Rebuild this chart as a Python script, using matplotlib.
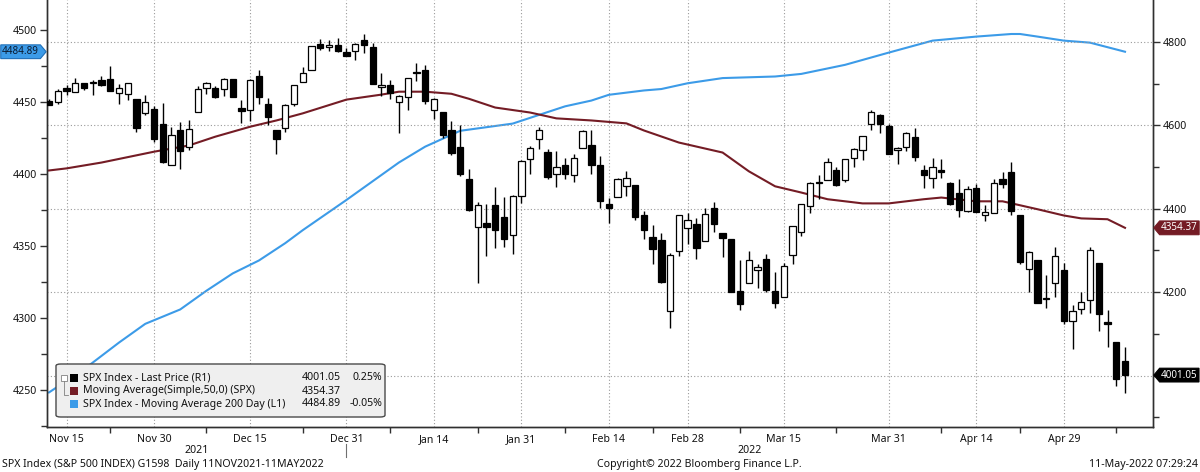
import matplotlib
matplotlib.use("Agg")
import matplotlib.pyplot as plt
import numpy as np
import pandas as pd
from matplotlib.path import Path
from matplotlib.patches import FancyBboxPatch, Rectangle
from matplotlib.lines import Line2D
from matplotlib.ticker import FuncFormatter

plt.rcParams['font.family'] = ['Noto Sans', 'DejaVu Sans']

# SPX daily candles, 11 Nov 2021 - 10 May 2022
DATES = [
    "2021-11-11", "2021-11-12", "2021-11-15", "2021-11-16", "2021-11-17", "2021-11-18", "2021-11-19",
    "2021-11-22", "2021-11-23", "2021-11-24", "2021-11-26", "2021-11-29", "2021-11-30",
    "2021-12-01", "2021-12-02", "2021-12-03", "2021-12-06", "2021-12-07", "2021-12-08", "2021-12-09",
    "2021-12-10", "2021-12-13", "2021-12-14", "2021-12-15", "2021-12-16", "2021-12-17", "2021-12-20",
    "2021-12-21", "2021-12-22", "2021-12-23", "2021-12-27", "2021-12-28", "2021-12-29", "2021-12-30",
    "2021-12-31", "2022-01-03", "2022-01-04", "2022-01-05", "2022-01-06", "2022-01-07", "2022-01-10",
    "2022-01-11", "2022-01-12", "2022-01-13", "2022-01-14", "2022-01-18", "2022-01-19", "2022-01-20",
    "2022-01-21", "2022-01-24", "2022-01-25", "2022-01-26", "2022-01-27", "2022-01-28", "2022-01-31",
    "2022-02-01", "2022-02-02", "2022-02-03", "2022-02-04", "2022-02-07", "2022-02-08", "2022-02-09",
    "2022-02-10", "2022-02-11", "2022-02-14", "2022-02-15", "2022-02-16", "2022-02-17", "2022-02-18",
    "2022-02-22", "2022-02-23", "2022-02-24", "2022-02-25", "2022-02-28", "2022-03-01", "2022-03-02",
    "2022-03-03", "2022-03-04", "2022-03-07", "2022-03-08", "2022-03-09", "2022-03-10", "2022-03-11",
    "2022-03-14", "2022-03-15", "2022-03-16", "2022-03-17", "2022-03-18", "2022-03-21", "2022-03-22",
    "2022-03-23", "2022-03-24", "2022-03-25", "2022-03-28", "2022-03-29", "2022-03-30", "2022-03-31",
    "2022-04-01", "2022-04-04", "2022-04-05", "2022-04-06", "2022-04-07", "2022-04-08", "2022-04-11",
    "2022-04-12", "2022-04-13", "2022-04-14", "2022-04-18", "2022-04-19", "2022-04-20", "2022-04-21",
    "2022-04-22", "2022-04-25", "2022-04-26", "2022-04-27", "2022-04-28", "2022-04-29", "2022-05-02",
    "2022-05-03", "2022-05-04", "2022-05-05", "2022-05-06", "2022-05-09", "2022-05-10",
]
OPEN = [
    4659.39, 4655.24, 4689.30, 4679.42, 4701.50, 4700.72, 4708.44, 4712.00, 4678.48, 4675.78, 4664.63,
    4628.75, 4640.25, 4602.82, 4504.73, 4589.49, 4548.37, 4631.97, 4690.86, 4691.00, 4687.64, 4710.30,
    4642.99, 4636.46, 4719.13, 4652.50, 4587.90, 4594.96, 4650.36, 4703.96, 4733.99, 4795.49, 4788.64,
    4794.23, 4775.21, 4778.14, 4804.51, 4787.99, 4693.39, 4697.66, 4655.34, 4669.14, 4728.59, 4733.56,
    4637.99, 4632.24, 4588.03, 4547.35, 4471.38, 4356.32, 4366.64, 4408.43, 4380.58, 4336.19, 4431.79,
    4519.57, 4566.39, 4535.41, 4482.79, 4505.75, 4480.02, 4547.00, 4553.24, 4506.27, 4412.61, 4429.28,
    4455.75, 4456.06, 4384.57, 4332.74, 4324.93, 4155.77, 4298.38, 4354.17, 4363.14, 4322.56, 4401.31,
    4342.12, 4327.01, 4202.66, 4223.10, 4252.55, 4279.50, 4202.75, 4188.82, 4288.14, 4345.11, 4407.34,
    4462.40, 4469.10, 4493.10, 4469.98, 4522.91, 4541.09, 4602.86, 4624.20, 4599.02, 4540.32, 4547.97,
    4572.45, 4494.17, 4474.65, 4494.15, 4462.64, 4437.59, 4394.30, 4449.12, 4385.63, 4390.63, 4472.26,
    4489.17, 4385.83, 4255.34, 4278.14, 4186.52, 4222.58, 4253.75, 4130.61, 4159.78, 4181.18, 4270.43,
    4128.17, 4081.27, 4035.18,
]
HIGH = [
    4664.55, 4688.47, 4697.42, 4714.95, 4701.50, 4708.80, 4717.75, 4743.83, 4699.39, 4702.87, 4664.63,
    4672.95, 4646.02, 4652.94, 4595.46, 4608.03, 4612.60, 4694.04, 4705.06, 4695.26, 4713.57, 4710.30,
    4660.47, 4712.60, 4731.99, 4666.70, 4587.90, 4651.14, 4697.67, 4740.74, 4791.49, 4807.02, 4804.06,
    4808.93, 4786.83, 4796.64, 4818.62, 4797.70, 4725.01, 4707.95, 4673.02, 4714.13, 4748.83, 4744.13,
    4665.13, 4632.24, 4611.55, 4602.11, 4494.52, 4417.35, 4411.01, 4453.23, 4428.74, 4432.72, 4516.89,
    4550.49, 4595.31, 4542.88, 4539.66, 4521.86, 4531.32, 4590.03, 4588.92, 4526.33, 4426.22, 4472.77,
    4489.55, 4456.06, 4394.60, 4362.12, 4341.51, 4294.73, 4385.34, 4388.84, 4378.45, 4401.48, 4416.78,
    4342.12, 4327.01, 4276.94, 4299.40, 4268.28, 4291.01, 4247.57, 4271.05, 4357.86, 4412.67, 4465.40,
    4481.75, 4522.00, 4501.07, 4520.58, 4546.03, 4575.65, 4637.30, 4627.77, 4603.07, 4548.70, 4583.50,
    4593.45, 4503.94, 4521.16, 4520.41, 4464.35, 4471.00, 4453.92, 4460.46, 4410.31, 4471.03, 4488.29,
    4512.94, 4385.83, 4299.02, 4278.14, 4240.71, 4308.45, 4269.68, 4169.81, 4200.10, 4307.66, 4270.43,
    4157.69, 4081.27, 4068.82,
]
LOW = [
    4648.31, 4650.77, 4672.86, 4679.42, 4684.41, 4672.78, 4694.22, 4682.17, 4652.66, 4659.89, 4585.43,
    4625.26, 4560.00, 4510.27, 4504.73, 4495.12, 4540.51, 4631.97, 4674.52, 4665.98, 4670.24, 4667.60,
    4606.52, 4611.22, 4651.89, 4600.22, 4531.10, 4583.16, 4645.53, 4703.96, 4733.99, 4780.04, 4778.08,
    4775.33, 4765.75, 4758.17, 4774.27, 4699.44, 4671.26, 4662.74, 4582.24, 4638.27, 4706.71, 4650.29,
    4614.75, 4568.70, 4530.20, 4477.95, 4395.34, 4222.62, 4287.11, 4304.80, 4309.50, 4292.46, 4414.02,
    4483.53, 4544.32, 4470.39, 4451.50, 4471.47, 4465.40, 4547.00, 4484.31, 4401.41, 4364.84, 4429.28,
    4429.68, 4373.81, 4327.22, 4267.11, 4221.51, 4114.65, 4286.83, 4315.12, 4279.54, 4322.56, 4345.56,
    4284.98, 4199.85, 4157.87, 4223.10, 4209.80, 4200.49, 4161.72, 4187.90, 4267.92, 4335.65, 4390.57,
    4424.30, 4469.10, 4455.81, 4465.17, 4501.07, 4517.69, 4589.66, 4581.32, 4530.41, 4507.57, 4539.21,
    4514.17, 4450.04, 4450.30, 4474.60, 4408.38, 4381.34, 4392.70, 4392.59, 4370.30, 4390.63, 4448.76,
    4384.47, 4267.62, 4200.82, 4175.04, 4162.90, 4188.63, 4124.28, 4062.51, 4147.08, 4148.91, 4106.01,
    4067.91, 3975.48, 3958.17,
]
CLOSE = [
    4649.27, 4682.85, 4682.80, 4700.90, 4688.67, 4704.54, 4697.96, 4682.94, 4690.70, 4701.46, 4594.62,
    4655.27, 4567.00, 4513.04, 4577.10, 4538.43, 4591.67, 4686.75, 4701.21, 4667.45, 4712.02, 4668.97,
    4634.09, 4709.85, 4668.67, 4620.64, 4568.02, 4649.23, 4696.56, 4725.79, 4791.19, 4786.35, 4793.06,
    4778.73, 4766.18, 4796.56, 4793.54, 4700.58, 4696.05, 4677.03, 4670.29, 4713.07, 4726.35, 4659.03,
    4662.85, 4577.11, 4532.76, 4482.73, 4397.94, 4410.13, 4356.45, 4349.93, 4326.51, 4431.85, 4515.55,
    4546.54, 4589.38, 4477.44, 4500.53, 4483.87, 4521.54, 4587.18, 4504.08, 4418.64, 4401.67, 4471.07,
    4475.01, 4380.26, 4348.87, 4304.76, 4225.50, 4288.70, 4384.65, 4373.94, 4306.26, 4386.54, 4363.49,
    4328.87, 4201.09, 4170.70, 4277.88, 4259.52, 4204.31, 4173.11, 4262.45, 4357.86, 4411.67, 4463.12,
    4461.18, 4511.61, 4456.24, 4520.16, 4543.06, 4575.52, 4631.60, 4602.45, 4530.41, 4545.86, 4582.64,
    4525.12, 4481.15, 4500.21, 4488.28, 4412.53, 4397.45, 4446.59, 4392.59, 4391.69, 4462.21, 4459.45,
    4393.66, 4271.78, 4296.12, 4175.20, 4183.96, 4287.50, 4131.93, 4155.38, 4175.48, 4300.17, 4146.87,
    4123.34, 3991.24, 4001.05,
]

# 50-day simple moving average (right axis)
MA50_DATES = [
    "2021-11-11", "2021-11-15", "2021-11-19", "2021-11-30", "2021-12-06", "2021-12-09", "2021-12-15",
    "2021-12-20", "2021-12-23", "2021-12-31", "2022-01-06", "2022-01-10", "2022-01-13", "2022-01-19",
    "2022-01-21", "2022-01-26", "2022-02-01", "2022-02-04", "2022-02-10", "2022-02-16", "2022-02-18",
    "2022-02-25", "2022-03-04", "2022-03-09", "2022-03-14", "2022-03-17", "2022-03-22", "2022-03-28",
    "2022-03-31", "2022-04-06", "2022-04-08", "2022-04-14", "2022-04-20", "2022-04-26", "2022-04-29",
    "2022-05-03", "2022-05-06", "2022-05-10",
]
MA50_VALUES = [
    4492, 4497, 4511, 4537, 4552, 4573, 4597, 4612, 4629, 4662, 4674, 4681, 4681, 4676, 4664, 4643,
    4631, 4617, 4612, 4605, 4588, 4559, 4535, 4490, 4454, 4439, 4423, 4413, 4413, 4423, 4427, 4418,
    4418, 4399, 4384, 4377, 4375, 4354.37,
]

# 200-day moving average (left axis)
MA200_DATES = [
    "2021-11-11", "2021-11-17", "2021-11-23", "2021-11-29", "2021-12-03", "2021-12-08", "2021-12-13",
    "2021-12-16", "2021-12-21", "2021-12-23", "2021-12-31", "2022-01-10", "2022-01-13", "2022-01-20",
    "2022-01-28", "2022-02-02", "2022-02-07", "2022-02-10", "2022-02-14", "2022-02-18", "2022-02-23",
    "2022-02-28", "2022-03-04", "2022-03-14", "2022-03-17", "2022-03-24", "2022-03-31", "2022-04-07",
    "2022-04-14", "2022-04-21", "2022-04-22", "2022-04-26", "2022-04-29", "2022-05-04", "2022-05-10",
]
MA200_VALUES = [
    4248.4, 4264.5, 4283, 4296, 4306, 4319, 4331, 4340, 4352, 4361, 4382, 4408, 4419, 4430, 4435,
    4441, 4447, 4451, 4455, 4458, 4459, 4463, 4466.6, 4467.7, 4469.5, 4475.8, 4484.3, 4492.6, 4495.4,
    4497.2, 4497.2, 4495.4, 4492.6, 4491.2, 4484.89,
]

MAJOR_TICK_DATES = ["2021-11-15", "2021-11-30", "2021-12-15", "2021-12-31", "2022-01-14", "2022-01-31",
                    "2022-02-14", "2022-02-28", "2022-03-15", "2022-03-31", "2022-04-14", "2022-04-29"]
MAJOR_TICK_LABELS = ["Nov 15", "Nov 30", "Dec 15", "Dec 31", "Jan 14", "Jan 31",
                     "Feb 14", "Feb 28", "Mar 15", "Mar 31", "Apr 14", "Apr 29"]
MINOR_TICK_DATES = ["2021-11-22", "2021-12-08", "2021-12-23", "2022-01-07", "2022-01-24", "2022-02-07",
                    "2022-02-22", "2022-03-08", "2022-03-23", "2022-04-08", "2022-04-22", "2022-05-09"]

LEGEND_NAMES = ["SPX Index - Last Price (R1)", "Moving Average(Simple,50,0) (SPX)",
                "SPX Index - Moving Average 200 Day (L1)"]
LEGEND_VALUES = ["4001.05", "4354.37", "4484.89"]
LEGEND_CHANGES = ["0.25%", "", "-0.05%"]

BLUE = "#3c9be8"
MAROON = "#741c25"
GRID = "#9a9a9a"
TXT = "#111111"
FS = 7.6
TAG_FS = 7.1
W, H = 1200, 472

pos = {d: i for i, d in enumerate(DATES)}
x = np.arange(len(DATES))
o, hi, lo, c = (np.array(a) for a in (OPEN, HIGH, LOW, CLOSE))


def tag_path(point_left):
    def style(x0, y0, width, height, mutation_size):
        pad = 0.14 * mutation_size
        x0, y0 = x0 - pad, y0 - pad
        width, height = width + 2 * pad, height + 2 * pad
        tip = 0.42 * height
        ym = y0 + height / 2
        if point_left:
            verts = [(x0 - tip, ym), (x0, y0), (x0 + width, y0), (x0 + width, y0 + height),
                     (x0, y0 + height), (x0 - tip, ym)]
        else:
            verts = [(x0 + width + tip, ym), (x0 + width, y0 + height), (x0, y0 + height), (x0, y0),
                     (x0 + width, y0), (x0 + width + tip, ym)]
        return Path(verts, closed=True)
    return style


fig = plt.figure(figsize=(W / 100, H / 100), dpi=100)
ax = fig.add_axes([47 / W, 1 - 427 / H, (1153 - 47) / W, 427 / H])
ax2 = ax.twinx()

# left axis: 200-day MA
ma200_x = [pos[d] for d in MA200_DATES]
ax.plot(ma200_x, MA200_VALUES, color=BLUE, lw=1.5, zorder=2)
ax.set_ylim(4224.4, 4520.8)
ax.set_yticks(np.arange(4250, 4501, 50))
ax.set_yticks(np.arange(4225, 4520, 25), minor=True)

# right axis: candles + 50-day MA
ma50_x = [pos[d] for d in MA50_DATES]
ax2.plot(ma50_x, MA50_VALUES, color=MAROON, lw=1.5, zorder=2)
up = c >= o
body_lo = np.minimum(o, c)
body_h = np.maximum(np.abs(c - o), 2.0)
ax2.vlines(x, lo, hi, color="black", lw=1.0, zorder=3)
ax2.bar(x[up], body_h[up], bottom=body_lo[up], width=0.72, facecolor="white",
        edgecolor="black", linewidth=0.9, zorder=4)
ax2.bar(x[~up], body_h[~up], bottom=body_lo[~up], width=0.72, facecolor="black",
        edgecolor="black", linewidth=0.9, zorder=4)
ax2.set_ylim(3876.5, 4901)
ax2.set_yticks(np.arange(4000, 4801, 200))
ax2.set_yticks(np.arange(3900, 4900, 100), minor=True)
# the 4000 label sits under the last-price tag, as in the original
ax2.yaxis.set_major_formatter(FuncFormatter(lambda v, p: "" if v < 4100 else f"{v:.0f}"))
ax2.yaxis.grid(True, which="major", color=GRID, lw=0.8, ls=(0, (1, 2)))

ax.set_xlim(-0.23, 126.2)
ax.set_xticks([pos[d] for d in MAJOR_TICK_DATES])
ax.set_xticklabels(MAJOR_TICK_LABELS)
ax.set_xticks([pos[d] for d in MINOR_TICK_DATES], minor=True)
ax.xaxis.grid(True, which="major", color=GRID, lw=0.8, ls=(0, (1, 2)))

for a in (ax, ax2):
    a.spines["top"].set_visible(False)
    for s in ("left", "right", "bottom"):
        a.spines[s].set_color("#303030")
        a.spines[s].set_linewidth(1.0)
    a.tick_params(axis="y", which="major", length=5, width=1, colors="#303030",
                  labelsize=FS, labelcolor=TXT, pad=2)
    a.tick_params(axis="y", which="minor", length=4, width=1, colors="#303030")
ax.tick_params(axis="x", which="major", length=0, labelsize=FS, labelcolor=TXT, pad=5)
ax.tick_params(axis="x", which="minor", length=4, width=1, colors="#303030")

# year labels and separator
xmin, xmax = ax.get_xlim()
sep = pos["2021-12-31"]
ax.text((xmin + sep) / 2, -0.055, "2021", transform=ax.get_xaxis_transform(), ha="center",
        va="center", fontsize=FS, color=TXT)
ax.text((sep + xmax) / 2, -0.055, "2022", transform=ax.get_xaxis_transform(), ha="center",
        va="center", fontsize=FS, color=TXT)
ax.add_line(Line2D([sep, sep], [-0.04, -0.07], transform=ax.get_xaxis_transform(),
                   color="#707070", lw=0.8, clip_on=False))

# last-value tags
ax.annotate(LEGEND_VALUES[2], xy=(0, MA200_VALUES[-1]), xycoords=ax.get_yaxis_transform(),
            xytext=(-8, 0), textcoords="offset pixels", ha="right", va="center", fontsize=TAG_FS,
            color="#0a1a30", zorder=10, annotation_clip=False,
            bbox=dict(boxstyle=tag_path(False), fc=BLUE, ec="#1f6fb8", lw=0.8))
ax2.annotate(LEGEND_VALUES[1], xy=(1, MA50_VALUES[-1]), xycoords=ax2.get_yaxis_transform(),
             xytext=(8, 0), textcoords="offset pixels", ha="left", va="center", fontsize=TAG_FS,
             color="white", zorder=10, annotation_clip=False,
             bbox=dict(boxstyle=tag_path(True), fc=MAROON, ec=MAROON, lw=0.8))
ax2.annotate(LEGEND_VALUES[0], xy=(1, CLOSE[-1]), xycoords=ax2.get_yaxis_transform(),
             xytext=(8, 0), textcoords="offset pixels", ha="left", va="center", fontsize=TAG_FS,
             color="white", zorder=10, annotation_clip=False,
             bbox=dict(boxstyle=tag_path(True), fc="black", ec="black", lw=0.8))


# legend box
def fx(px):
    return px / W


def fy(py):
    return 1 - py / H


fig.add_artist(FancyBboxPatch((fx(56), fy(417)), fx(385) - fx(56), fy(364) - fy(417),
                              boxstyle="round,pad=0,rounding_size=0.004", transform=fig.transFigure,
                              fc="#efefef", ec="#4a4a4a", lw=1.0, zorder=5))
# little tree icon
fig.add_artist(Rectangle((fx(61), fy(381)), fx(6), fy(375) - fy(381), transform=fig.transFigure,
                         fc="white", ec="#808080", lw=0.6, zorder=6))
fig.add_artist(Line2D([fx(64), fx(64), fx(68)], [fy(381), fy(395), fy(395)],
                      transform=fig.transFigure, color="#808080", lw=0.6, zorder=6))
row_y = [378, 391, 404]
for yy, col, name, val, chg in zip(row_y, ["black", MAROON, BLUE], LEGEND_NAMES,
                                   LEGEND_VALUES, LEGEND_CHANGES):
    fig.add_artist(Rectangle((fx(70), fy(yy + 4)), fx(8), fy(yy - 4) - fy(yy + 4),
                             transform=fig.transFigure, fc=col, ec="none", zorder=6))
    fig.text(fx(83), fy(yy), name, ha="left", va="center", fontsize=FS, color=TXT, zorder=7)
    fig.text(fx(341), fy(yy), val, ha="right", va="center", fontsize=FS, color=TXT, zorder=7)
    if chg:
        fig.text(fx(382), fy(yy), chg, ha="right", va="center", fontsize=FS, color=TXT, zorder=7)

# footer
fig.text(fx(2), fy(465), "SPX Index (S&P 500 INDEX) G1598  Daily 11NOV2021-11MAY2022",
         ha="left", va="center", fontsize=FS, color=TXT)
fig.text(fx(597), fy(465), "Copyright\u00a9 2022 Bloomberg Finance L.P.", ha="left", va="center",
         fontsize=FS, color=TXT)
fig.text(fx(1198), fy(465), "11-May-2022 07:29:24", ha="right", va="center", fontsize=FS,
         color=TXT)

fig.savefig("out.png", dpi=100, facecolor="white")
